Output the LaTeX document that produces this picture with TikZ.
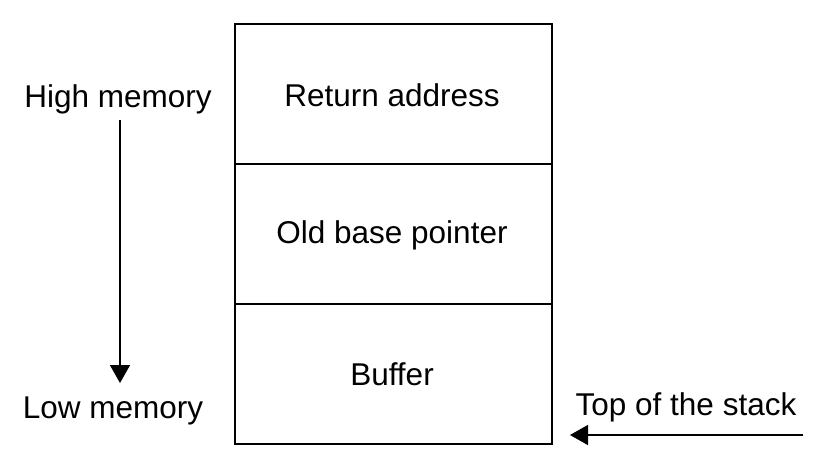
\documentclass[tikz,border=0pt]{standalone}
\usepackage{fontspec}
\setmainfont{Liberation Sans}
\usetikzlibrary{arrows.meta}
\begin{document}
\begin{tikzpicture}[x=1pt,y=-1pt,
  cell/.style={draw, line width=1.6pt, minimum width=317pt, minimum height=140pt, inner sep=0pt, anchor=north west},
  lbl/.style={font=\fontsize{31.5}{36}\selectfont, inner sep=0pt},
  arr/.style={line width=1.4pt, -{Triangle[length=18pt,width=20pt]}}]
\useasboundingbox (0,0) rectangle (827,467);
\node[cell] (ra) at (234,23) {};
\node[cell] (ob) at (234,163) {};
\node[cell] (bf) at (234,303) {};
\node[lbl] at (392,95) {Return address};
\node[lbl] at (392,235) {Old base pointer};
\node[lbl] at (392,374) {Buffer};
\node[lbl] (hm) at (118,99) {High memory};
\node[lbl] (lm) at (113,411) {Low memory};
\node[lbl] (ts) at (686,407) {Top of the stack};
\coordinate (a1) at (120,120);
\coordinate (a2) at (120,383);
\draw[arr] (a1) -- (a2);
\coordinate (b1) at (803,435);
\coordinate (b2) at (570,435);
\draw[arr] (b1) -- (b2);
\end{tikzpicture}
\end{document}
